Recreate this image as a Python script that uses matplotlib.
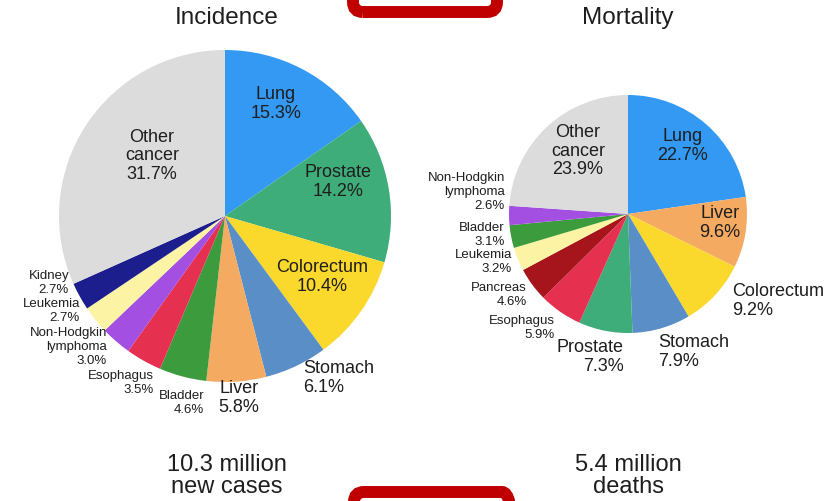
import matplotlib
matplotlib.use("Agg")
import matplotlib.pyplot as plt
from matplotlib.patches import FancyBboxPatch

plt.rcParams['font.family'] = ['Liberation Sans', 'DejaVu Sans']

# Incidence shares (%), clockwise from 12 o'clock
inc_names = ["Lung", "Prostate", "Colorectum", "Stomach", "Liver", "Bladder",
             "Esophagus", "Non-Hodgkin\nlymphoma", "Leukemia", "Kidney", "Other\ncancer"]
inc_values = [15.3, 14.2, 10.4, 6.1, 5.8, 4.6, 3.5, 3.0, 2.7, 2.7, 31.7]

# Mortality shares (%), clockwise from 12 o'clock
mort_names = ["Lung", "Liver", "Colorectum", "Stomach", "Prostate", "Esophagus",
              "Pancreas", "Leukemia", "Bladder", "Non-Hodgkin\nlymphoma", "Other\ncancer"]
mort_values = [22.7, 9.6, 9.2, 7.9, 7.3, 5.9, 4.6, 3.2, 3.1, 2.6, 23.9]

totals = ["10.3 million\nnew cases", "5.4 million\ndeaths"]
titles = ["Incidence", "Mortality"]

palette = {
    "Lung": "#3399f3", "Prostate": "#3fad79", "Colorectum": "#fbd82c",
    "Stomach": "#5a8ec7", "Liver": "#f5aa62", "Bladder": "#3c9c3d",
    "Esophagus": "#e6304f", "Non-Hodgkin\nlymphoma": "#a24fe2",
    "Leukemia": "#fcf4a4", "Kidney": "#1b1e8c", "Other\ncancer": "#dcdcdc",
    "Pancreas": "#a6151c",
}

W, H = 826, 502
fig = plt.figure(figsize=(W / 100, H / 100), dpi=100)
ax = fig.add_axes([0, 0, 1, 1])


def py(y):
    # convert a top-down pixel row into the axes' bottom-up coordinate
    return H - y


def draw_pie(names, values, cx, cy, r):
    ax.pie(values, colors=[palette[n] for n in names], startangle=90,
           counterclock=False, center=(cx, py(cy)), radius=r,
           wedgeprops=dict(linewidth=0), frame=True)


draw_pie(inc_names, inc_values, 225, 217, 166)
draw_pie(mort_names, mort_values, 628, 215, 119)

ax.set_xlim(0, W)
ax.set_ylim(0, H)
ax.set_aspect('equal')
ax.axis('off')

TXT = "#1e1e1e"
BIG, SMALL = 13, 9.5


def label(name, value, x, y, size, ha="center"):
    ls = 1.1 if size == BIG else 1.2
    ax.text(x, py(y), f"{name}\n{value:.1f}%", ha=ha, va="center",
            multialignment=ha, fontsize=size, color=TXT, linespacing=ls)


# Incidence labels (x, y, size, alignment)
inc_pos = {
    "Lung": (276, 104, BIG, "center"),
    "Prostate": (338, 182, BIG, "center"),
    "Colorectum": (322, 277, BIG, "center"),
    "Stomach": (303, 378, BIG, "left"),
    "Liver": (239, 398, BIG, "center"),
    "Bladder": (204, 403, SMALL, "right"),
    "Esophagus": (154, 383, SMALL, "right"),
    "Non-Hodgkin\nlymphoma": (107, 347, SMALL, "right"),
    "Leukemia": (80, 311, SMALL, "right"),
    "Kidney": (69, 283, SMALL, "right"),
    "Other\ncancer": (152, 156, BIG, "center"),
}
for n, v in zip(inc_names, inc_values):
    x, y, s, ha = inc_pos[n]
    label(n, v, x, y, s, ha)

# Mortality labels
mort_pos = {
    "Lung": (683, 146, BIG, "center"),
    "Liver": (720, 223, BIG, "center"),
    "Colorectum": (732, 301, BIG, "left"),
    "Stomach": (658, 352, BIG, "left"),
    "Prostate": (624, 357, BIG, "right"),
    "Esophagus": (555, 328, SMALL, "right"),
    "Pancreas": (527, 295, SMALL, "right"),
    "Leukemia": (512, 262, SMALL, "right"),
    "Bladder": (505, 235, SMALL, "right"),
    "Non-Hodgkin\nlymphoma": (505, 192, SMALL, "right"),
    "Other\ncancer": (578, 151, BIG, "center"),
}
for n, v in zip(mort_names, mort_values):
    x, y, s, ha = mort_pos[n]
    label(n, v, x, y, s, ha)

# Panel titles and totals
ax.text(227, py(18), titles[0], ha="center", va="center", fontsize=17.5, color=TXT)
ax.text(628, py(18), titles[1], ha="center", va="center", fontsize=17.5, color=TXT)
ax.text(227, py(476), totals[0], ha="center", va="center", fontsize=17,
        color=TXT, linespacing=1.05)
ax.text(628, py(476), totals[1], ha="center", va="center", fontsize=17,
        color=TXT, linespacing=1.05)

# Red rounded frames running off the top and bottom edges
for x0, x1, y0, y1 in [(353, 497, -40, 13), (354, 512, 493, 545)]:
    box = FancyBboxPatch((x0, py(y1)), x1 - x0, y1 - y0,
                         boxstyle="round,pad=0,rounding_size=10",
                         fill=False, edgecolor="#c00000", linewidth=8.6,
                         clip_on=False)
    ax.add_patch(box)

fig.savefig("out.png", dpi=100)
